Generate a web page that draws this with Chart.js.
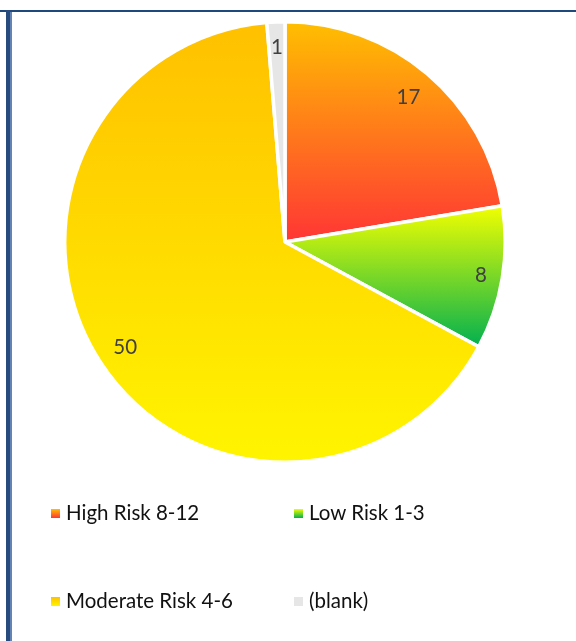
<!DOCTYPE html>
<html>
<head>
<meta charset="utf-8">
<script src="https://cdn.jsdelivr.net/npm/chart.js@4/dist/chart.umd.min.js"></script>
<style>
  html, body { margin: 0; padding: 0; background: #fff; }
  #wrap { position: relative; width: 576px; height: 641px; overflow: hidden; }
  #chartBox { position: absolute; left: 0; top: 0; width: 576px; height: 641px; }
  .topline { position: absolute; left: 0; top: 10px; width: 576px; height: 2px; background: #1F497D; }
  .leftA { position: absolute; left: 6px; top: 10px; width: 4px; height: 631px; background: #264B7C; }
  .leftB { position: absolute; left: 10px; top: 12px; width: 2px; height: 629px; background: #6283B3; }
  .lg { position: absolute; font-family: Lato, "Liberation Sans", sans-serif; font-size: 20.5px; color: #111; white-space: nowrap; line-height: 20px; }
  .sq { position: absolute; width: 9px; height: 9px; }
</style>
</head>
<body>
<div id="wrap">
  <div id="chartBox"><canvas id="c"></canvas></div>
  <div class="topline"></div>
  <div class="leftA"></div>
  <div class="leftB"></div>
  <div id="legend"></div>
</div>
<script>
// ---- data ----
const categories = ["High Risk 8-12", "Low Risk 1-3", "Moderate Risk 4-6", "(blank)"];
const values = [17, 8, 50, 1];
// gradient stops per slice: [top colour, bottom colour]
const gradTop = ["#FFC000", "#F2FF00", "#FFC000", "#E6E6E6"];
const gradBottom = ["#FF3535", "#00B050", "#FFF500", "#E6E6E6"];

// ---- legend (HTML) ----
const legendPos = [[51, 66, 513], [294, 309, 513], [51, 66, 601], [294, 309, 601]];
const legendEl = document.getElementById('legend');
categories.forEach((name, i) => {
  const [sx, tx, cy] = legendPos[i];
  const sq = document.createElement('div');
  sq.className = 'sq';
  sq.style.left = sx + 'px';
  sq.style.top = (cy - 4) + 'px';
  sq.style.background = 'linear-gradient(' + gradTop[i] + ',' + gradBottom[i] + ')';
  legendEl.appendChild(sq);
  const t = document.createElement('div');
  t.className = 'lg';
  t.style.left = tx + 'px';
  t.style.top = (cy - 11) + 'px';
  t.textContent = name;
  legendEl.appendChild(t);
});

// ---- gradient per slice (vertical, over slice bounding box) ----
function sliceGradient(ctx) {
  const chart = ctx.chart;
  const area = chart.chartArea;
  if (!area) return gradTop[ctx.dataIndex];
  const i = ctx.dataIndex;
  const cx = (area.left + area.right) / 2, cy = (area.top + area.bottom) / 2;
  const r = Math.min(area.right - area.left, area.bottom - area.top) / 2;
  const total = values.reduce((a, b) => a + b, 0);
  let before = 0;
  for (let k = 0; k < i; k++) before += values[k];
  const a0 = -Math.PI / 2 + before / total * 2 * Math.PI;
  const a1 = a0 + values[i] / total * 2 * Math.PI;
  let ys = [cy, cy + r * Math.sin(a0), cy + r * Math.sin(a1)];
  const within = (a) => { for (let m = -1; m <= 2; m++) { const x = a + m * 2 * Math.PI; if (x >= a0 && x <= a1) return true; } return false; };
  if (within(-Math.PI / 2)) ys.push(cy - r);
  if (within(Math.PI / 2)) ys.push(cy + r);
  const y0 = Math.min(...ys), y1 = Math.max(...ys);
  const g = chart.ctx.createLinearGradient(0, y0, 0, y1);
  g.addColorStop(0, gradTop[i]);
  g.addColorStop(1, gradBottom[i]);
  return g;
}

// ---- data label plugin (inside end) ----
const labelPlugin = {
  id: 'insideEndLabels',
  afterDatasetsDraw(chart) {
    const meta = chart.getDatasetMeta(0);
    const c = chart.ctx;
    c.save();
    c.font = '20.5px Lato, "Liberation Sans", sans-serif';
    c.fillStyle = '#404040';
    c.textAlign = 'center';
    c.textBaseline = 'middle';
    meta.data.forEach((arc, i) => {
      const p = arc.getProps(['x', 'y', 'startAngle', 'endAngle', 'outerRadius'], true);
      const mid = (p.startAngle + p.endAngle) / 2;
      const txt = String(values[i]);
      const w = c.measureText(txt).width;
      const hw = w / 2, hh = 10;
      const proj = Math.abs(Math.cos(mid)) * hw + Math.abs(Math.sin(mid)) * hh;
      const d = p.outerRadius - 14 - proj;
      c.fillText(txt, p.x + Math.cos(mid) * d, p.y + Math.sin(mid) * d + 1);
    });
    c.restore();
  }
};

new Chart(document.getElementById('c'), {
  type: 'pie',
  data: {
    labels: categories,
    datasets: [{
      data: values,
      backgroundColor: sliceGradient,
      borderColor: '#FFFFFF',
      borderWidth: 3.5
    }]
  },
  options: {
    responsive: true,
    maintainAspectRatio: false,
    animation: false,
    layout: { padding: { left: 63, top: 20, right: 69, bottom: 177 } },
    plugins: {
      legend: { display: false },
      tooltip: { enabled: false }
    }
  },
  plugins: [labelPlugin]
});
</script>
</body>
</html>
